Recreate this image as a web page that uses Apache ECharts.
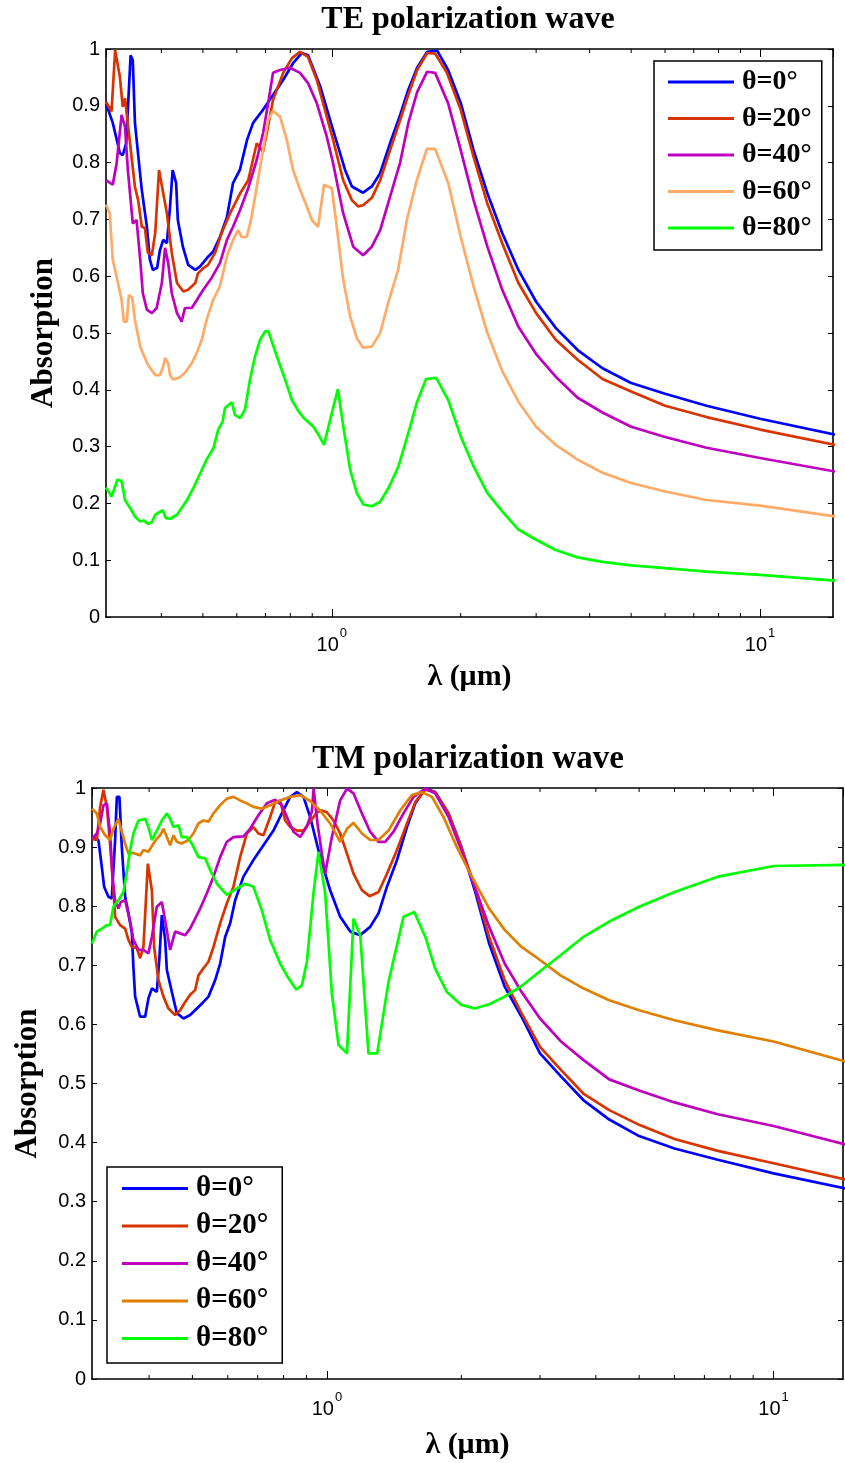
<!DOCTYPE html>
<html><head><meta charset="utf-8">
<script src="https://cdn.jsdelivr.net/npm/echarts@6/dist/echarts.min.js"></script>
<style>html,body{margin:0;padding:0;background:#fff}#c{width:845px;height:1463px}</style>
</head><body><div id="c"></div>
<script>
// ---------- data ----------
const angleLabels = ['θ=0°','θ=20°','θ=40°','θ=60°','θ=80°'];
const minorTickVals = [0.4,0.5,0.6,0.7,0.8,0.9,2,3,4,5,6,7,8,9];
const majorTickVals = [1,10];

// TE polarization
const teLam0 = [0.297,0.308,0.32,0.325,0.331,0.339,0.343,0.347,0.356,0.36,0.37,0.376,0.382,0.391,0.397,0.404,0.412,0.419,0.425,0.433,0.437,0.449,0.462,0.48,0.492,0.511,0.528,0.548,0.569,0.588,0.61,0.634,0.655,0.691,0.729,0.769,0.812,0.852,0.88,0.939,1.007,1.074,1.114,1.183,1.24,1.296,1.368,1.444,1.508,1.582,1.67,1.762,1.869,2.0,2.143,2.308,2.5,2.727,3.0,3.333,3.75,4.286,5,6,7.5,10,15];
const teAbs0 = [0.904,0.87,0.817,0.813,0.834,0.989,0.98,0.87,0.787,0.752,0.687,0.629,0.611,0.615,0.646,0.664,0.658,0.722,0.787,0.764,0.699,0.652,0.62,0.611,0.617,0.632,0.643,0.669,0.704,0.764,0.787,0.84,0.87,0.893,0.919,0.945,0.975,0.993,0.989,0.935,0.857,0.787,0.758,0.747,0.758,0.781,0.834,0.884,0.928,0.967,0.995,0.997,0.963,0.905,0.822,0.746,0.676,0.611,0.555,0.509,0.47,0.438,0.412,0.393,0.372,0.349,0.321];

const teLam20 = [0.297,0.306,0.312,0.32,0.325,0.329,0.338,0.347,0.353,0.36,0.366,0.372,0.38,0.387,0.395,0.404,0.412,0.423,0.435,0.45,0.462,0.48,0.487,0.501,0.514,0.534,0.553,0.579,0.611,0.638,0.668,0.691,0.705,0.729,0.77,0.807,0.843,0.88,0.923,0.965,1.007,1.063,1.114,1.152,1.183,1.24,1.297,1.368,1.444,1.508,1.582,1.67,1.743,1.857,2.0,2.143,2.308,2.5,2.727,3.0,3.333,3.75,4.286,5,6,7.5,10,15];
const teAbs20 = [0.907,0.89,0.998,0.951,0.898,0.913,0.834,0.757,0.734,0.687,0.685,0.641,0.637,0.676,0.787,0.746,0.711,0.641,0.588,0.573,0.576,0.588,0.605,0.614,0.62,0.641,0.676,0.711,0.746,0.769,0.834,0.819,0.852,0.91,0.958,0.984,0.995,0.986,0.945,0.891,0.84,0.769,0.734,0.723,0.725,0.738,0.769,0.822,0.875,0.919,0.963,0.993,0.992,0.958,0.893,0.81,0.728,0.658,0.588,0.535,0.488,0.453,0.419,0.397,0.372,0.352,0.33,0.303];

const teLam40 = [0.297,0.308,0.3145,0.323,0.329,0.334,0.343,0.35,0.357,0.362,0.37,0.38,0.39,0.401,0.408,0.415,0.423,0.435,0.446,0.454,0.471,0.484,0.501,0.524,0.548,0.569,0.588,0.611,0.638,0.668,0.691,0.71,0.729,0.757,0.799,0.843,0.88,0.923,0.973,1.007,1.063,1.122,1.183,1.24,1.297,1.368,1.444,1.508,1.582,1.67,1.743,1.87,2.0,2.143,2.308,2.5,2.727,3.0,3.333,3.75,4.286,5,6,7.5,10,15];
const teAbs40 = [0.769,0.761,0.799,0.884,0.863,0.787,0.693,0.699,0.629,0.57,0.541,0.535,0.544,0.588,0.65,0.623,0.57,0.535,0.52,0.544,0.544,0.558,0.576,0.597,0.623,0.664,0.687,0.717,0.755,0.805,0.852,0.904,0.958,0.963,0.967,0.958,0.94,0.904,0.846,0.799,0.711,0.652,0.637,0.652,0.681,0.74,0.8,0.869,0.924,0.96,0.958,0.904,0.822,0.734,0.652,0.576,0.511,0.463,0.423,0.386,0.36,0.335,0.317,0.298,0.28,0.256];

const teLam60 = [0.297,0.303,0.308,0.3145,0.323,0.327,0.332,0.336,0.342,0.347,0.357,0.362,0.372,0.387,0.397,0.404,0.408,0.415,0.419,0.426,0.442,0.454,0.471,0.484,0.497,0.51,0.528,0.548,0.569,0.588,0.604,0.616,0.633,0.65,0.668,0.691,0.71,0.729,0.757,0.785,0.812,0.843,0.874,0.898,0.929,0.959,1.0,1.027,1.063,1.104,1.144,1.183,1.24,1.297,1.354,1.428,1.497,1.579,1.667,1.743,1.87,2.0,2.143,2.308,2.5,2.727,3.0,3.333,3.75,4.286,5,6,7.5,10,15];
const teAbs60 = [0.726,0.711,0.629,0.599,0.558,0.52,0.52,0.567,0.562,0.523,0.476,0.465,0.444,0.426,0.426,0.441,0.456,0.447,0.426,0.418,0.422,0.43,0.447,0.465,0.488,0.523,0.558,0.582,0.635,0.664,0.681,0.669,0.669,0.705,0.757,0.822,0.875,0.891,0.881,0.84,0.787,0.752,0.723,0.699,0.687,0.761,0.755,0.687,0.594,0.529,0.491,0.474,0.476,0.5,0.553,0.611,0.699,0.769,0.824,0.824,0.764,0.669,0.582,0.5,0.433,0.379,0.335,0.303,0.277,0.254,0.236,0.221,0.206,0.196,0.177];

const teLam80 = [0.297,0.306,0.316,0.323,0.329,0.338,0.347,0.357,0.363,0.373,0.38,0.387,0.403,0.41,0.419,0.435,0.446,0.459,0.475,0.493,0.51,0.529,0.543,0.556,0.563,0.584,0.594,0.611,0.627,0.644,0.662,0.68,0.699,0.711,0.744,0.778,0.807,0.836,0.866,0.906,0.931,0.959,0.991,1.033,1.064,1.104,1.144,1.185,1.24,1.297,1.356,1.431,1.524,1.579,1.66,1.753,1.87,2.0,2.143,2.308,2.5,2.727,3.0,3.333,3.75,4.286,5,6,7.5,10,15];
const teAbs80 = [0.228,0.212,0.242,0.239,0.206,0.192,0.177,0.168,0.17,0.164,0.167,0.18,0.188,0.174,0.173,0.18,0.192,0.206,0.227,0.253,0.277,0.297,0.33,0.344,0.368,0.378,0.356,0.35,0.365,0.418,0.459,0.488,0.503,0.503,0.459,0.418,0.382,0.362,0.348,0.335,0.321,0.303,0.347,0.401,0.335,0.259,0.218,0.198,0.195,0.203,0.227,0.265,0.335,0.377,0.419,0.421,0.382,0.318,0.265,0.218,0.186,0.154,0.136,0.118,0.105,0.097,0.091,0.086,0.08,0.074,0.064];

// TM polarization
const tmLam0 = [0.298,0.308,0.3135,0.3172,0.3243,0.33,0.3357,0.3387,0.3432,0.3475,0.3535,0.3596,0.366,0.3689,0.3722,0.3819,0.3919,0.3986,0.4057,0.4162,0.4219,0.4271,0.4345,0.4383,0.4497,0.4614,0.4775,0.4942,0.5116,0.5293,0.5432,0.5623,0.5769,0.5919,0.6074,0.6233,0.6504,0.6847,0.7211,0.7593,0.7928,0.8276,0.8567,0.8864,0.9175,0.966,1.017,1.071,1.128,1.188,1.25,1.305,1.363,1.435,1.511,1.577,1.661,1.748,1.872,2.0,2.143,2.308,2.5,2.727,3.0,3.333,3.75,4.286,5,6,7.5,10,15];
const tmAbs0 = [0.917,0.912,0.866,0.833,0.816,0.813,0.912,0.985,0.985,0.9,0.816,0.788,0.754,0.697,0.647,0.613,0.613,0.644,0.661,0.655,0.714,0.785,0.743,0.692,0.655,0.619,0.61,0.616,0.627,0.638,0.647,0.675,0.703,0.748,0.771,0.81,0.85,0.878,0.903,0.928,0.957,0.985,0.993,0.985,0.951,0.883,0.827,0.782,0.757,0.751,0.765,0.788,0.833,0.878,0.934,0.974,0.999,0.993,0.957,0.9,0.827,0.737,0.664,0.613,0.551,0.513,0.472,0.439,0.411,0.39,0.371,0.348,0.32];

const tmLam20 = [0.298,0.3055,0.3108,0.3161,0.3217,0.3271,0.3328,0.3357,0.3445,0.3535,0.3596,0.366,0.3754,0.3819,0.3885,0.3974,0.4057,0.4105,0.4197,0.4307,0.4419,0.4574,0.4694,0.4817,0.4942,0.5071,0.5158,0.5293,0.5432,0.5574,0.5769,0.5971,0.6178,0.6394,0.6619,0.6847,0.7026,0.7211,0.7465,0.766,0.7859,0.8064,0.8276,0.8567,0.8864,0.9175,0.9497,0.9745,1.0,1.035,1.071,1.109,1.147,1.198,1.246,1.305,1.363,1.435,1.511,1.577,1.661,1.748,1.872,2.0,2.143,2.308,2.5,2.727,3.0,3.333,3.75,4.286,5,6,7.5,10,15];
const tmAbs20 = [0.914,0.912,0.968,0.997,0.968,0.906,0.827,0.782,0.768,0.762,0.743,0.731,0.729,0.712,0.731,0.872,0.827,0.731,0.675,0.647,0.627,0.616,0.624,0.638,0.65,0.658,0.683,0.695,0.706,0.731,0.771,0.805,0.833,0.883,0.923,0.934,0.923,0.92,0.951,0.976,0.979,0.945,0.934,0.928,0.928,0.943,0.959,0.962,0.959,0.945,0.923,0.889,0.855,0.827,0.817,0.824,0.855,0.895,0.94,0.976,0.997,0.993,0.957,0.9,0.833,0.748,0.675,0.619,0.562,0.524,0.483,0.455,0.43,0.406,0.386,0.365,0.335];

const tmLam40 = [0.298,0.3055,0.3108,0.3161,0.3217,0.3271,0.3317,0.3357,0.3415,0.3457,0.3535,0.3628,0.3689,0.3786,0.3885,0.3986,0.4057,0.4162,0.4271,0.4345,0.4458,0.4574,0.4694,0.4817,0.4942,0.5071,0.5204,0.5387,0.5574,0.5769,0.5971,0.6178,0.6504,0.6732,0.7026,0.7338,0.766,0.7928,0.8204,0.8418,0.8713,0.902,0.9256,0.934,0.9528,0.9745,0.9913,1.026,1.071,1.109,1.147,1.198,1.25,1.305,1.351,1.41,1.484,1.563,1.661,1.748,1.872,2.0,2.143,2.308,2.5,2.727,3.0,3.333,3.75,4.286,5,6,7.5,10,15];
const tmAbs40 = [0.914,0.923,0.94,0.971,0.974,0.923,0.844,0.81,0.796,0.807,0.81,0.774,0.743,0.726,0.726,0.72,0.748,0.799,0.807,0.776,0.726,0.757,0.754,0.751,0.762,0.779,0.796,0.822,0.85,0.883,0.909,0.917,0.918,0.931,0.954,0.974,0.98,0.971,0.945,0.926,0.917,0.935,0.96,0.999,0.94,0.889,0.855,0.917,0.979,0.999,0.991,0.957,0.926,0.909,0.909,0.926,0.957,0.985,0.999,0.991,0.951,0.895,0.833,0.765,0.703,0.655,0.61,0.572,0.54,0.507,0.488,0.468,0.448,0.428,0.394];

const tmLam60 = [0.298,0.3055,0.3108,0.3189,0.3271,0.3328,0.3415,0.3475,0.3535,0.3596,0.3689,0.3819,0.3885,0.3986,0.409,0.4162,0.4234,0.4307,0.4383,0.4458,0.4534,0.4614,0.4735,0.4899,0.5027,0.5158,0.5293,0.5432,0.5574,0.5769,0.5971,0.6178,0.6394,0.6619,0.6847,0.7151,0.7465,0.7859,0.8276,0.8713,0.9175,0.966,1.017,1.071,1.109,1.147,1.198,1.25,1.305,1.374,1.459,1.55,1.632,1.719,1.824,1.955,2.094,2.308,2.5,2.727,3.0,3.333,3.75,4.286,5,6,7.5,10,15];
const tmAbs60 = [0.965,0.957,0.934,0.92,0.912,0.931,0.948,0.926,0.906,0.889,0.89,0.886,0.895,0.892,0.906,0.914,0.92,0.931,0.917,0.903,0.92,0.909,0.906,0.912,0.923,0.94,0.945,0.943,0.957,0.971,0.982,0.985,0.979,0.974,0.968,0.965,0.971,0.979,0.985,0.988,0.978,0.962,0.94,0.909,0.931,0.941,0.923,0.912,0.912,0.928,0.962,0.988,0.993,0.985,0.951,0.9,0.855,0.796,0.76,0.731,0.709,0.683,0.661,0.641,0.624,0.607,0.59,0.571,0.534];

const tmLam80 = [0.298,0.3055,0.3135,0.3217,0.3271,0.3328,0.3415,0.3504,0.3566,0.3628,0.3689,0.3786,0.3919,0.3986,0.4057,0.4162,0.4271,0.4383,0.4458,0.4534,0.4653,0.4735,0.4859,0.4986,0.5158,0.534,0.548,0.5672,0.5971,0.6287,0.6561,0.6847,0.7151,0.7465,0.7859,0.8204,0.8537,0.879,0.902,0.9333,0.9576,0.9913,1.026,1.062,1.109,1.147,1.188,1.239,1.296,1.374,1.484,1.57,1.661,1.748,1.856,2.0,2.143,2.308,2.5,2.727,3.0,3.333,3.75,4.286,5,6,7.5,10,15];
const tmAbs80 = [0.737,0.757,0.762,0.768,0.768,0.799,0.81,0.824,0.858,0.895,0.923,0.945,0.948,0.934,0.912,0.928,0.945,0.957,0.948,0.934,0.937,0.917,0.917,0.906,0.883,0.881,0.861,0.838,0.819,0.83,0.838,0.833,0.793,0.743,0.703,0.678,0.659,0.666,0.706,0.822,0.892,0.822,0.652,0.565,0.551,0.779,0.75,0.551,0.551,0.672,0.782,0.79,0.748,0.694,0.655,0.633,0.627,0.634,0.647,0.665,0.69,0.717,0.748,0.774,0.799,0.824,0.85,0.868,0.87];

// ---------- styles ----------
const teColors = ['#0000FF','#D93300','#BF00BF','#FFAA66','#00FF00'];
const tmColors = ['#0000FF','#D93300','#BF00BF','#E07F00','#00FF00'];
const SERIF = "'Liberation Serif','Times New Roman',serif";
const SANS = "'Liberation Sans',Arial,sans-serif";

const teSets = [[teLam0,teAbs0],[teLam20,teAbs20],[teLam40,teAbs40],[teLam60,teAbs60],[teLam80,teAbs80]];
const tmSets = [[tmLam0,tmAbs0],[tmLam20,tmAbs20],[tmLam40,tmAbs40],[tmLam60,tmAbs60],[tmLam80,tmAbs80]];

function zip(xs, ys){ const n=Math.min(xs.length, ys.length); const out=[]; for(let i=0;i<n;i++) out.push([xs[i], ys[i]]); return out; }

function decadeLabel(v){
  const e = Math.log10(v); const r = Math.round(e);
  if (Math.abs(e - r) < 1e-6) return '{b|10}{s|' + r + '}';
  return '';
}
const decRich = {
  b:{fontFamily:SANS, fontSize:20, color:'#000'},
  s:{fontFamily:SANS, fontSize:13, color:'#000', padding:[0,0,24,1]}
};
const axisLineStyle = {color:'#000', width:1.6};

function xAxes(grid, min, max, margin, nameGap){
  return [{
    type:'log', logBase:10, gridIndex:grid, min:min, max:max, position:'bottom',
    axisLine:{show:true, onZero:false, lineStyle:axisLineStyle},
    axisTick:{show:true, inside:true, length:8, lineStyle:{color:'#000', width:1}},
    splitLine:{show:false}, minorTick:{show:false}, minorSplitLine:{show:false},
    axisLabel:{show:true, margin:margin, formatter:decadeLabel, rich:decRich, showMinLabel:false, showMaxLabel:false},
    name:'λ (μm)', nameLocation:'middle', nameGap:nameGap,
    nameTextStyle:{fontFamily:SERIF, fontWeight:'bold', fontSize:30, color:'#000'}
  },{
    type:'log', logBase:10, gridIndex:grid, min:min, max:max, position:'top',
    axisLine:{show:true, onZero:false, lineStyle:axisLineStyle},
    axisTick:{show:true, inside:true, length:8, lineStyle:{color:'#000', width:1}},
    splitLine:{show:false}, axisLabel:{show:false}
  }];
}
function yAxes(grid, margin, nameGap){
  return [{
    type:'value', gridIndex:grid, min:0, max:1, interval:0.1, position:'left',
    axisLine:{show:true, onZero:false, lineStyle:axisLineStyle},
    axisTick:{show:true, inside:true, length:5, lineStyle:{color:'#000', width:1}},
    splitLine:{show:false},
    axisLabel:{fontFamily:SANS, fontSize:20, color:'#000', margin:margin},
    name:'Absorption', nameLocation:'middle', nameGap:nameGap, nameRotate:90,
    nameTextStyle:{fontFamily:SERIF, fontWeight:'bold', fontSize:31, color:'#000'}
  },{
    type:'value', gridIndex:grid, min:0, max:1, interval:0.1, position:'right',
    axisLine:{show:true, onZero:false, lineStyle:axisLineStyle},
    axisTick:{show:true, inside:true, length:5, lineStyle:{color:'#000', width:1}},
    splitLine:{show:false}, axisLabel:{show:false}
  }];
}

function lineSeries(prefix, sets, colors, xi, yi){
  return sets.map((s, i) => ({
    type:'line', name: prefix + angleLabels[i], xAxisIndex:xi, yAxisIndex:yi,
    data: zip(s[0], s[1]), showSymbol:false, symbol:'none', smooth:false, clip:true,
    lineStyle:{color:colors[i], width:2.7}, itemStyle:{color:colors[i]},
    emphasis:{disabled:true}, z:2+i
  }));
}
function tickSeries(xi, yi){
  return {
    type:'custom', xAxisIndex:xi, yAxisIndex:yi, silent:true, clip:false, z:10,
    data: minorTickVals.map(v => [v, 0.5]),
    renderItem:function(params, api){
      const x = api.coord([api.value(0), 0.5])[0];
      const cs = params.coordSys;
      const yb = cs.y + cs.height, yt = cs.y, L = 4;
      return {type:'group', children:[
        {type:'line', shape:{x1:x, y1:yb, x2:x, y2:yb-L}, style:{stroke:'#000', lineWidth:1}},
        {type:'line', shape:{x1:x, y1:yt, x2:x, y2:yt+L}, style:{stroke:'#000', lineWidth:1}}
      ]};
    }
  };
}

const legendBase = {
  orient:'vertical', itemWidth:66, itemHeight:3, icon:'rect',
  backgroundColor:'#fff', borderColor:'#000', borderWidth:1.5, borderRadius:0,
  selectedMode:false, formatter: n => n.slice(3)
};

const option = {
  animation:false,
  backgroundColor:'#fff',
  title:[
    {text:'TE polarization wave', left:468, top:4, textAlign:'center', padding:0,
     textStyle:{fontFamily:SERIF, fontWeight:'bold', fontSize:32, color:'#000'}},
    {text:'TM polarization wave', left:468, top:743, textAlign:'center', padding:0,
     textStyle:{fontFamily:SERIF, fontWeight:'bold', fontSize:33, color:'#000'}}
  ],
  grid:[
    {left:106, top:49, width:727, height:568},
    {left:92, top:788, width:751, height:591}
  ],
  xAxis:[...xAxes(0, 0.297, 14.8, 10, 45), ...xAxes(1, 0.298, 14.3, 12, 51)],
  yAxis:[...yAxes(0, 6, 47), ...yAxes(1, 6, 49)],
  legend:[
    Object.assign({}, legendBase, {
      data: angleLabels.map(a => 'TE ' + a), left:654, top:61, padding:[7,10,8,14], itemGap:8.5,
      textStyle:{fontFamily:SERIF, fontWeight:'bold', fontSize:28, lineHeight:28, color:'#000', padding:[0,0,0,3]}
    }),
    Object.assign({}, legendBase, {
      data: angleLabels.map(a => 'TM ' + a), left:107, top:1167, padding:[7,14,10,15], itemGap:8.5,
      textStyle:{fontFamily:SERIF, fontWeight:'bold', fontSize:29, lineHeight:29, color:'#000', padding:[0,0,0,3]}
    })
  ],
  series:[
    ...lineSeries('TE ', teSets, teColors, 0, 0),
    ...lineSeries('TM ', tmSets, tmColors, 2, 2),
    tickSeries(0, 0), tickSeries(2, 2)
  ]
};

const chart = echarts.init(document.getElementById('c'), null, {renderer:'canvas', width:845, height:1463});
chart.setOption(option);
</script>
</body></html>
